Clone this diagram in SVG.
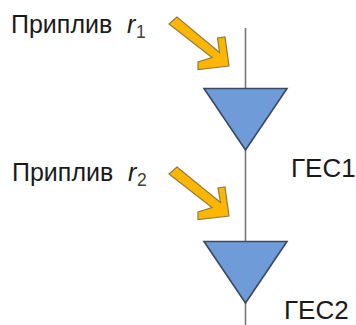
<svg xmlns="http://www.w3.org/2000/svg" width="356" height="325" viewBox="0 0 356 325">
<defs>
<style>
.lbl{font-family:"Liberation Sans",Arial,sans-serif;font-size:25px;fill:#1a1a1a}
.ges{font-size:26px}
.i{font-style:italic}
.sub{font-size:17.500px;fill:#404040}
.tri{fill:#6f9bd8;stroke:#3c4a5e;stroke-width:1.6;stroke-linejoin:miter}
.ln{stroke:#777;stroke-width:1.6;fill:none}
.arr{fill:#ffb600;stroke:#8f7d3f;stroke-width:1.2;stroke-linejoin:miter}
</style>
</defs>
<rect width="356" height="325" fill="#fff"/>
<g id="connectors">
<line class="ln" x1="245.500" y1="28" x2="245.500" y2="88"/>
<line class="ln" x1="245.500" y1="150" x2="245.500" y2="241"/>
<line class="ln" x1="245.500" y1="303" x2="245.500" y2="325"/>
</g>
<g id="inflow1">
<path class="arr" d="M177 17L169 24L212 57.500L198 62L198 69.500L229 66L225 37L217.500 38L219.500 52.500Z"/>
<text class="lbl" x="11" y="33">Приплив</text>
<text class="lbl i" x="127" y="33">r</text>
<text class="lbl sub" x="136" y="38">1</text>
</g>
<g id="inflow2">
<path class="arr" d="M177 167L169 174L212 207.500L198 212L198 219.500L229 216L225 187L218 188L220.500 202.500Z"/>
<text class="lbl" x="12" y="181">Приплив</text>
<text class="lbl i" x="128" y="181">r</text>
<text class="lbl sub" x="137" y="186">2</text>
</g>
<g id="ges1">
<polygon class="tri" points="204,88.500 287,88.500 245.500,150"/>
<text class="lbl ges" x="291" y="177">ГЕС1</text>
</g>
<g id="ges2">
<polygon class="tri" points="204,241.500 287,241.500 245.500,303"/>
<text class="lbl ges" x="284" y="319">ГЕС2</text>
</g>
</svg>
